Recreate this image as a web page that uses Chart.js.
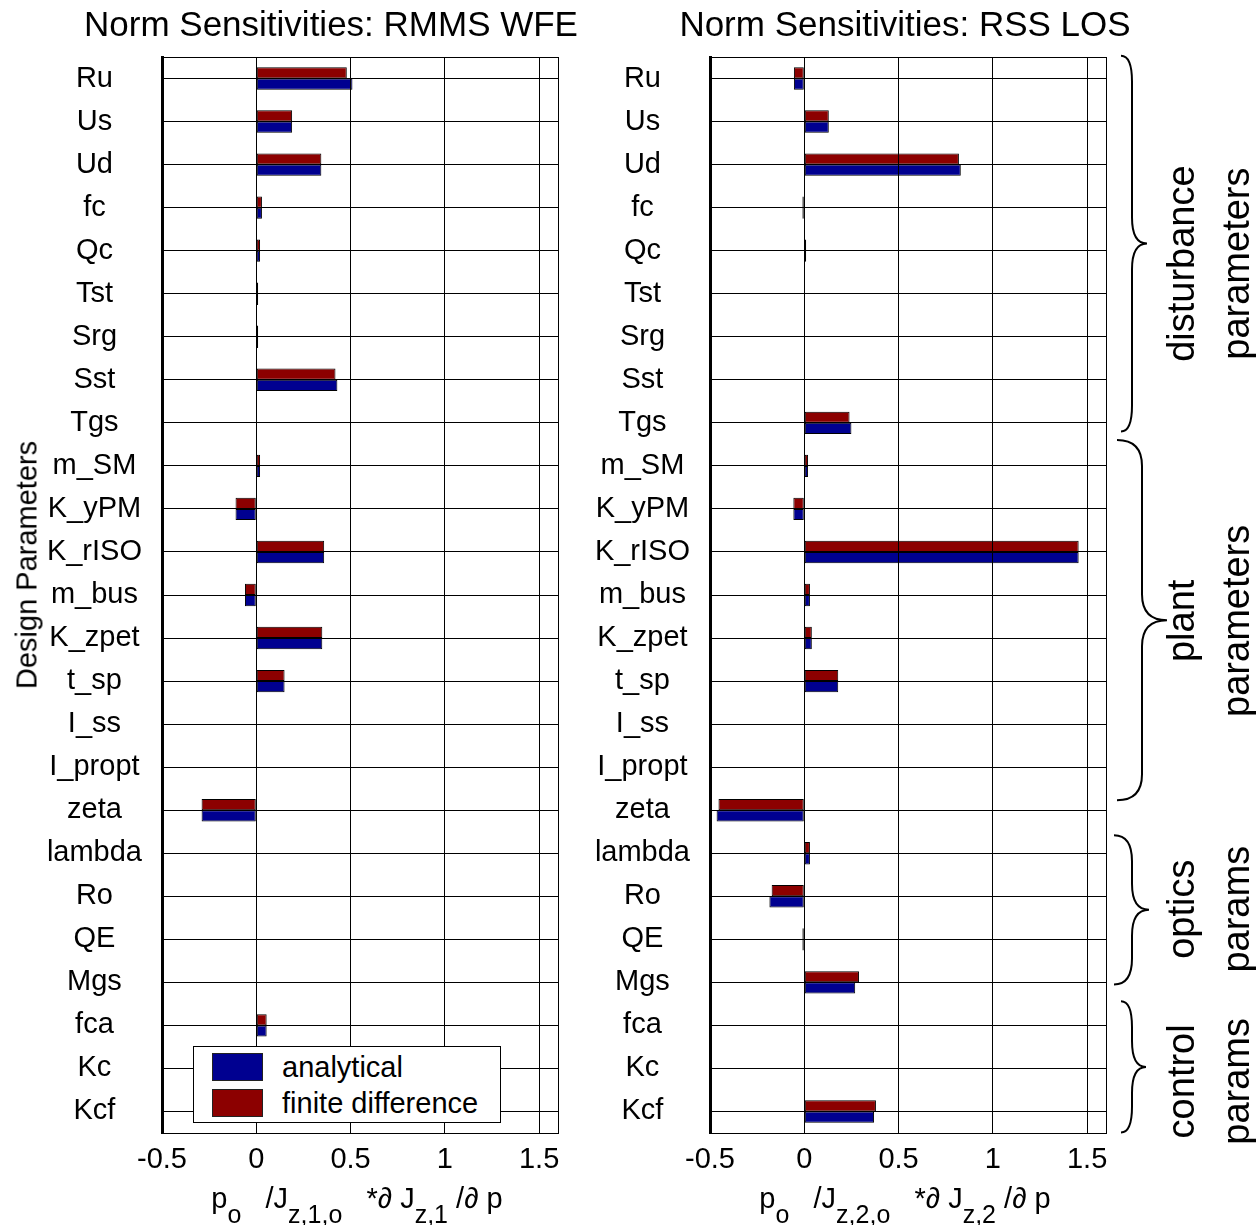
<!DOCTYPE html>
<html>
<head>
<meta charset="utf-8">
<script src="https://cdn.jsdelivr.net/npm/chart.js@4.4.1/dist/chart.umd.min.js"></script>
<style>
    body { margin: 0; background: #fff; overflow: hidden; }
    #contenedor { position: relative; width: 1256px; height: 1225px; background: #fff; font-family: 'Liberation Sans', Arial, sans-serif; color: #000; }
    .panel { position: absolute; top: 0; }
    .titulo { position: absolute; top: 6px; font-size: 35px; line-height: 35px; white-space: nowrap; transform: translateX(-50%); }
    .ejeX { position: absolute; top: 1181px; font-size: 29px; line-height: 34px; white-space: nowrap; transform: translateX(-50%); }
    .ejeX .sub { font-size: 25px; vertical-align: -15px; }
    .ejeX i { font-style: italic; }
    #tituloY { position: absolute; left: 27px; top: 565px; font-size: 29px; line-height: 29px; white-space: nowrap; transform: translate(-50%, -50%) rotate(-90deg); }
    #leyenda { position: absolute; left: 193px; top: 1046px; width: 308px; height: 77px; box-sizing: border-box; border: 1px solid #000; background: #fff; }
    .item { position: absolute; left: 0; height: 30px; width: 300px; }
    .muestra { position: absolute; left: 18px; top: 0; width: 51px; height: 28px; box-sizing: border-box; border: 1px solid #222; }
    .etiqueta { position: absolute; left: 88px; top: -2px; font-size: 29px; line-height: 32px; white-space: nowrap; }
</style>
</head>
<body>
<div id="contenedor">
    <div class="panel" style="left:0"><canvas id="graficoWFE" width="600" height="1225"></canvas></div>
    <div class="panel" style="left:548px"><canvas id="graficoLOS" width="708" height="1225"></canvas></div>
    <div class="titulo" style="left:331px">Norm Sensitivities: RMMS WFE</div>
    <div class="titulo" style="left:905px">Norm Sensitivities: RSS LOS</div>
    <div id="tituloY">Design Parameters</div>
    <div class="ejeX" style="left:357px">p<span class="sub">o</span>&nbsp;&nbsp;&nbsp;/J<span class="sub">z,1,o</span>&nbsp;&nbsp;&nbsp;*<i>∂</i> J<span class="sub">z,1</span> /<i>∂</i> p</div>
    <div class="ejeX" style="left:905px">p<span class="sub">o</span>&nbsp;&nbsp;&nbsp;/J<span class="sub">z,2,o</span>&nbsp;&nbsp;&nbsp;*<i>∂</i> J<span class="sub">z,2</span> /<i>∂</i> p</div>
    <div id="leyenda"></div>
</div>
<script>
// Parametros de diseño (de arriba hacia abajo)
const categorias = ['Ru', 'Us', 'Ud', 'fc', 'Qc', 'Tst', 'Srg', 'Sst', 'Tgs', 'm_SM', 'K_yPM', 'K_rISO', 'm_bus',
    'K_zpet', 't_sp', 'I_ss', 'I_propt', 'zeta', 'lambda', 'Ro', 'QE', 'Mgs', 'fca', 'Kc', 'Kcf'];

// Sensibilidades normalizadas RMMS WFE
const wfeAnalitico = [0.51, 0.19, 0.345, 0.03, 0.02, 0.01, 0.01, 0.43, 0, 0.02, -0.11, 0.36, -0.06,
    0.35, 0.15, 0, 0, -0.29, 0, 0, 0, 0, 0.055, 0, 0];
const wfeDiferencias = [0.48, 0.19, 0.345, 0.03, 0.02, 0.01, 0.01, 0.42, 0, 0.02, -0.11, 0.36, -0.06,
    0.35, 0.15, 0, 0, -0.29, 0, 0, 0, 0, 0.055, 0, 0];

// Sensibilidades normalizadas RSS LOS
const losAnalitico = [-0.055, 0.13, 0.83, -0.01, 0.01, 0, 0, 0, 0.25, 0.02, -0.058, 1.455, 0.03,
    0.04, 0.18, 0, 0, -0.465, 0.03, -0.185, -0.01, 0.27, 0, 0, 0.37];
const losDiferencias = [-0.055, 0.13, 0.82, -0.01, 0.01, 0, 0, 0, 0.24, 0.02, -0.058, 1.455, 0.03,
    0.04, 0.18, 0, 0, -0.455, 0.03, -0.173, -0.01, 0.29, 0, 0, 0.38];

// Marcas del eje x
const marcasX = [-0.5, 0, 0.5, 1, 1.5];

// Grupos de parametros (indices de categoria) para las llaves
const grupos = [
    { texto: ['disturbance', 'parameters'], desde: -0.53, hasta: 8.2, centro: 4.3, extremo: 15, tallo: 26, punta: 41 },
    { texto: ['plant', 'parameters'], desde: 8.4, hasta: 16.77, centro: 12.6, extremo: 11, tallo: 36, punta: 61 },
    { texto: ['optics', 'params'], desde: 17.58, hasta: 21.05, centro: 19.3, extremo: 8, tallo: 26, punta: 43 },
    { texto: ['control', 'params'], desde: 21.44, hasta: 24.49, centro: 23.3, extremo: 15, tallo: 26, punta: 40 }
];

const colorAnalitico = '#000090';
const colorDiferencias = '#8c0000';

Chart.defaults.font.family = "'Liberation Sans', Arial, sans-serif";
Chart.defaults.font.size = 29;
Chart.defaults.color = '#000';

document.addEventListener('DOMContentLoaded', function() {
    crearGrafico('graficoWFE', wfeAnalitico, wfeDiferencias, []);
    crearGrafico('graficoLOS', losAnalitico, losDiferencias, [pluginLlaves]);
    crearLeyenda();
});

// Marco del area de graficado
const pluginMarco = {
    id: 'marco',
    afterDraw(chart) {
        const a = chart.chartArea;
        const ctx = chart.ctx;
        ctx.save();
        ctx.strokeStyle = '#000';
        ctx.lineWidth = 1;
        ctx.strokeRect(a.left + 0.5, a.top + 0.5, a.right - a.left, a.bottom - a.top);
        ctx.restore();
    }
};

// Llaves y textos de grupos a la derecha
const pluginLlaves = {
    id: 'llaves',
    afterDraw(chart) {
        const ctx = chart.ctx;
        const escalaY = chart.scales.y;
        const derecha = chart.chartArea.right;
        ctx.save();
        ctx.strokeStyle = '#000';
        ctx.lineWidth = 2;
        grupos.forEach(function(g) {
            const y1 = escalaY.getPixelForValue(g.desde);
            const y2 = escalaY.getPixelForValue(g.hasta);
            const ym = (y1 + y2) / 2;
            const x0 = derecha + g.extremo;
            const xs = derecha + g.tallo;
            const xt = derecha + g.punta;
            const r = 26;
            ctx.beginPath();
            ctx.moveTo(x0, y1);
            ctx.quadraticCurveTo(xs, y1, xs, y1 + r);
            ctx.lineTo(xs, ym - r);
            ctx.quadraticCurveTo(xs, ym, xt, ym);
            ctx.quadraticCurveTo(xs, ym, xs, ym + r);
            ctx.lineTo(xs, y2 - r);
            ctx.quadraticCurveTo(xs, y2, x0, y2);
            ctx.stroke();

            // Texto rotado en dos lineas
            const yc = escalaY.getPixelForValue(g.centro);
            ctx.fillStyle = '#000';
            ctx.font = "38px 'Liberation Sans', Arial, sans-serif";
            ctx.textAlign = 'center';
            ctx.textBaseline = 'alphabetic';
            [88, 143].forEach(function(dx, i) {
                ctx.save();
                ctx.translate(derecha + dx, yc);
                ctx.rotate(-Math.PI / 2);
                ctx.fillText(g.texto[i], 0, 0);
                ctx.restore();
            });
        });
        ctx.restore();
    }
};

function crearGrafico(id, analitico, diferencias, extras) {
    const ctx = document.getElementById(id).getContext('2d');
    const anchoCanvas = document.getElementById(id).width;

    new Chart(ctx, {
        type: 'bar',
        data: {
            labels: categorias,
            datasets: [
                {
                    label: 'finite difference',
                    data: diferencias,
                    backgroundColor: colorDiferencias,
                    borderColor: '#000',
                    borderWidth: 1,
                    borderSkipped: false
                },
                {
                    label: 'analytical',
                    data: analitico,
                    backgroundColor: colorAnalitico,
                    borderColor: '#000',
                    borderWidth: 1,
                    borderSkipped: false
                }
            ]
        },
        options: {
            indexAxis: 'y',
            responsive: false,
            animation: false,
            categoryPercentage: 0.52,
            barPercentage: 1.0,
            layout: {
                padding: { top: 57, bottom: 42, left: 0, right: anchoCanvas - 558 }
            },
            plugins: {
                legend: { display: false },
                title: { display: false },
                tooltip: { enabled: false }
            },
            scales: {
                x: {
                    type: 'linear',
                    min: -0.5,
                    max: 1.6,
                    afterBuildTicks: function(eje) {
                        eje.ticks = marcasX.map(v => ({ value: v }));
                    },
                    afterFit: function(eje) { eje.height = 50; },
                    grid: { color: '#000', lineWidth: 1, drawTicks: false, z: 1 },
                    border: { color: '#000', width: 1, z: 1 },
                    ticks: {
                        padding: 10,
                        maxRotation: 0,
                        font: { size: 29 },
                        callback: function(valor) { return String(valor); }
                    }
                },
                y: {
                    afterFit: function(eje) { eje.width = 162; },
                    grid: { color: '#000', lineWidth: 1, drawTicks: false, offset: false, z: 1 },
                    border: { color: '#000', width: 3, z: 1 },
                    ticks: { crossAlign: 'center', padding: 20, autoSkip: false, font: { size: 29 } }
                }
            }
        },
        plugins: [pluginMarco].concat(extras)
    });
}

function crearLeyenda() {
    const elementos = [
        { texto: 'analytical', color: colorAnalitico, arriba: 6 },
        { texto: 'finite difference', color: colorDiferencias, arriba: 42 }
    ];
    let html = '';
    elementos.forEach(e => {
        html += `
            <div class="item" style="top:${e.arriba}px">
                <div class="muestra" style="background:${e.color}"></div>
                <div class="etiqueta">${e.texto}</div>
            </div>
        `;
    });
    document.getElementById('leyenda').innerHTML = html;
}
</script>
</body>
</html>
